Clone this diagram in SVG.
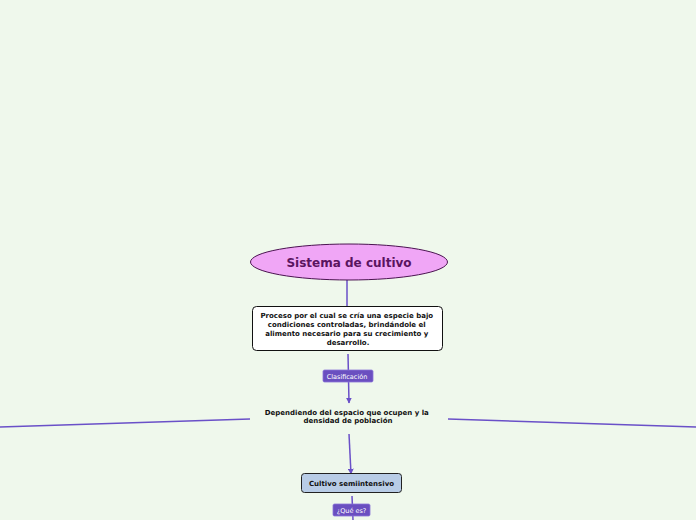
<svg xmlns="http://www.w3.org/2000/svg" width="696" height="520" viewBox="0 0 696 520">
<style>
.t{font-family:"DejaVu Sans",Verdana,sans-serif;font-weight:bold;fill:#111;text-anchor:middle}
.c{stroke:#6a50c8;stroke-width:1.5;fill:none}
.lb{fill:#6a4fc0;stroke:#8a75d8;stroke-width:0.8}
.lt{font-family:"DejaVu Sans",Verdana,sans-serif;fill:#fff;font-size:6.5px;text-anchor:middle}
</style>
<defs>
<marker id="ah" viewBox="0 0 10 10" refX="9" refY="5" markerWidth="6" markerHeight="6" orient="auto" markerUnits="userSpaceOnUse"><path d="M0,0 L10,5 L0,10 z" fill="#6a50c8"/></marker>
</defs>
<rect width="696" height="520" fill="#eff8ec"/>
<g id="connectors">
<line class="c" x1="347" y1="280" x2="347" y2="306"/>
<line class="c" x1="348" y1="354" x2="349" y2="403" marker-end="url(#ah)"/>
<line class="c" x1="250" y1="419" x2="0" y2="427"/>
<line class="c" x1="448" y1="419" x2="696" y2="427"/>
<line class="c" x1="349" y1="434" x2="351" y2="474" marker-end="url(#ah)"/>
<line class="c" x1="352" y1="496" x2="353" y2="520"/>
<rect class="lb" x="323" y="370" width="50" height="12" rx="1.5"/>
<text class="lt" x="347" y="378.5">Clasificación</text>
<rect class="lb" x="333" y="504" width="37" height="12" rx="1.5"/>
<text class="lt" x="351.5" y="512.5">¿Qué es?</text>
</g>
<g id="root">
<ellipse cx="349" cy="262" rx="98.5" ry="18" fill="#f0a6f6" stroke="#4a1450" stroke-width="1"/>
<text class="t" x="349" y="266.5" font-size="12" style="fill:#5a1460">Sistema de cultivo</text>
</g>
<g id="definition">
<rect x="252.5" y="306.5" width="190" height="44" rx="4" fill="#fff" stroke="#111" stroke-width="1"/>
<text class="t" font-size="7">
<tspan x="348" y="318">Proceso por el cual se cría una especie bajo</tspan>
<tspan x="348" y="327">condiciones controladas, brindándole el</tspan>
<tspan x="348" y="336">alimento necesario para su crecimiento y</tspan>
<tspan x="348" y="345">desarrollo.</tspan>
</text>
</g>
<g id="criterion">
<text class="t" font-size="7">
<tspan x="348" y="415">Dependiendo del espacio que ocupen y la</tspan>
<tspan x="348" y="423">densidad de población</tspan>
</text>
</g>
<g id="semiintensive">
<rect x="301.5" y="473.5" width="100" height="19" rx="3" fill="#b8cce6" stroke="#222" stroke-width="1"/>
<text class="t" x="351.5" y="485.5" font-size="7">Cultivo semiintensivo</text>
</g>
</svg>
